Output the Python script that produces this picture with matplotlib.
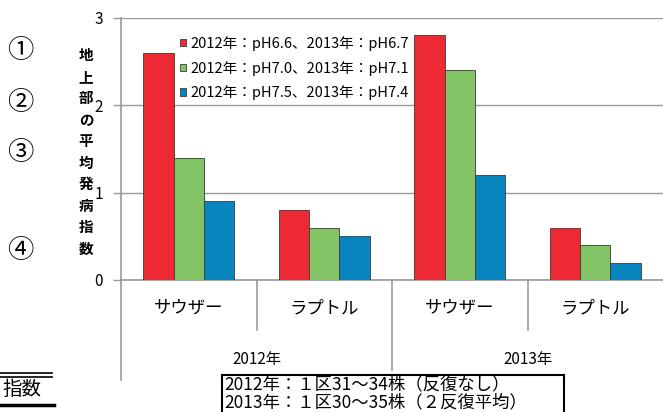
import numpy as np
import matplotlib.pyplot as plt
from matplotlib.transforms import blended_transform_factory

plt.rcParams['font.family'] = ['Noto Sans CJK JP', 'DejaVu Sans']

# data ---------------------------------------------------------------
varieties = ["サウザー", "ラプトル", "サウザー", "ラプトル"]
years = ["2012年", "2013年"]
series_labels = [
    "2012年：pH6.6、2013年：pH6.7",
    "2012年：pH7.0、2013年：pH7.1",
    "2012年：pH7.5、2013年：pH7.4",
]
ph_low = [2.6, 0.8, 2.8, 0.6]
ph_mid = [1.4, 0.6, 2.4, 0.4]
ph_high = [0.9, 0.5, 1.2, 0.2]
colors = ["#ED2A33", "#83C466", "#0884BF"]
yticks = [0, 1, 2, 3]
ylabel = "地上部の平均発病指数"
circle_marks = ["①", "②", "③", "④"]
note_lines = ["2012年：１区31～34株（反復なし）", "2013年：１区30～35株（２反復平均）"]

W, H = 663, 412
fig = plt.figure(figsize=(W / 100, H / 100), dpi=100)
ax = fig.add_axes([121 / W, 1 - 280 / H, 542 / W, 262 / H])

x = np.arange(len(varieties))
width = 0.224
for i, (vals, c, lbl) in enumerate(zip([ph_low, ph_mid, ph_high], colors, series_labels)):
    ax.bar(x + (i - 1) * width, vals, width, color=c, edgecolor="#3a3a3a",
           linewidth=0.6, label=lbl, zorder=3)

ax.set_xlim(-0.5, len(varieties) - 0.5)
ax.set_ylim(0, 3)
ax.set_yticks(yticks)
ax.set_xticks([])
ax.grid(axis="y", color="#9a9a9a", linewidth=1.0, zorder=0)
for s in ["top", "right"]:
    ax.spines[s].set_visible(False)
for s in ["left", "bottom"]:
    ax.spines[s].set_color("#999999")
    ax.spines[s].set_linewidth(1.2)
ax.tick_params(axis="y", length=6, width=1, color="#999999", pad=7, labelsize=11)

# category / year labels under the axis
tr = blended_transform_factory(ax.transData, ax.transAxes)
for xi, name in zip(x, varieties):
    ax.text(xi, -0.107, name, transform=tr, ha="center", va="center", fontsize=12.5)
for k, yr in enumerate(years):
    ax.text(2 * k + 0.5, -0.305, yr, transform=tr, ha="center", va="center", fontsize=11)
line_kw = dict(transform=tr, color="#999999", linewidth=1.2, clip_on=False)
for b in [0.5, 2.5]:
    ax.plot([b, b], [0, -0.191], **line_kw)
ax.plot([1.5, 1.5], [0, -0.344], **line_kw)
ax.plot([-0.5, -0.5], [0, -0.382], **line_kw)

ax.legend(loc="upper left", bbox_to_anchor=(180 / W, 1 - 36 / H),
          bbox_transform=fig.transFigure, frameon=False, fontsize=10.5,
          handlelength=0.42, handleheight=0.42, handletextpad=0.3,
          labelspacing=0.68, borderaxespad=0, borderpad=0)

# vertical y label
fig.text(86 / W, 1 - 152 / H, "\n".join(ylabel), ha="center", va="center",
         fontsize=10.5, fontweight="bold", linespacing=1.42)

# circled numbers at the left
for m, yp in zip(circle_marks, [50, 102, 152, 250]):
    fig.text(20 / W, 1 - yp / H, m, ha="center", va="center", fontsize=19)

# fragment bottom-left
fig.text(2 / W, 1 - 389 / H, "指数", ha="left", va="center", fontsize=14)
fig.add_artist(plt.Line2D([0, 52 / W], [1 - 373 / H] * 2, color="black", lw=1.2))
fig.add_artist(plt.Line2D([0, 52 / W], [1 - 377 / H] * 2, color="black", lw=1.2))
fig.add_artist(plt.Line2D([0, 54 / W], [1 - 405 / H] * 2, color="black", lw=2.5))

# note box
fig.add_artist(plt.Rectangle((222 / W, -0.02), 342 / W, (0.02 + 1 - 375 / H),
                             fill=False, edgecolor="black", lw=1.5))
for line, yp in zip(note_lines, [384, 402]):
    fig.text(224 / W, 1 - yp / H, line, ha="left", va="center", fontsize=12.5)

fig.savefig("out.png", dpi=100)
